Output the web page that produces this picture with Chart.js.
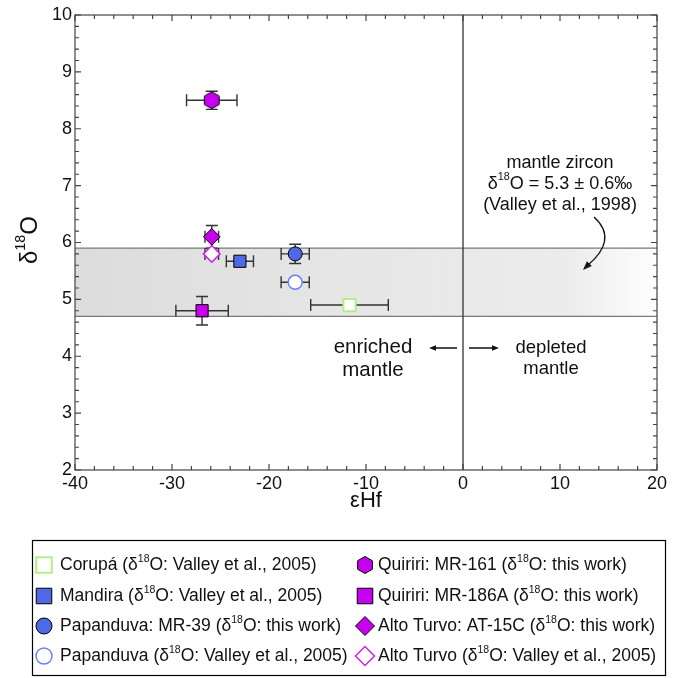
<!DOCTYPE html>
<html>
<head>
<meta charset="utf-8">
<script src="https://cdn.jsdelivr.net/npm/chart.js@4"></script>
<style>
  body { margin: 0; background: #fff; }
  canvas { display: block; }
</style>
</head>
<body>
<canvas id="hfChart" width="680" height="678"></canvas>
<script>
const FONT = '"Liberation Sans", Arial, Helvetica, sans-serif';

// sample groups, in legend order (left column first, then right column)
const groups = [
    'Corupá (δ18O: Valley et al., 2005)',
    'Mandira (δ18O: Valley et al., 2005)',
    'Papanduva: MR-39 (δ18O: this work)',
    'Papanduva (δ18O: Valley et al., 2005)',
    'Quiriri: MR-161 (δ18O: this work)',
    'Quiriri: MR-186A (δ18O: this work)',
    'Alto Turvo: AT-15C (δ18O: this work)',
    'Alto Turvo (δ18O: Valley et al., 2005)'
];
const epsHf    = [-11.7, -23.0, -17.3, -17.3, -25.9, -26.9, -25.9, -25.9];
const epsHfErr = [4.0, 1.4, 1.45, 1.45, 2.6, 2.7, 0.7, 0.7];
const d18O     = [4.9, 5.67, 5.8, 5.3, 8.5, 4.8, 6.1, 5.8];
const d18OErr  = [0, 0, 0.17, 0, 0.16, 0.25, 0.2, 0];

const xTicks = [-40, -30, -20, -10, 0, 10, 20];
const yTicks = [2, 3, 4, 5, 6, 7, 8, 9, 10];
const mantleBand = [4.7, 5.9];   // 5.3 ± 0.6 ‰
const divider = 0;               // εHf = 0

const MAGENTA = '#c800f0';
const BLUE = '#4f68e6';

const markers = [
    { shape: 'rect',    fill: '#ffffff', stroke: '#b4ee86', lw: 2 },
    { shape: 'rect',    fill: BLUE,      stroke: '#000',    lw: 1 },
    { shape: 'circle',  fill: BLUE,      stroke: '#000',    lw: 1 },
    { shape: 'circle',  fill: '#ffffff', stroke: '#6a80ff', lw: 1.5 },
    { shape: 'hex',     fill: MAGENTA,   stroke: '#000',    lw: 1 },
    { shape: 'rect',    fill: MAGENTA,   stroke: '#000',    lw: 1 },
    { shape: 'rectRot', fill: MAGENTA,   stroke: '#000',    lw: 1 },
    { shape: 'rectRot', fill: '#ffffff', stroke: '#d020f0', lw: 1.5 }
];

function markerPath(ctx, shape, x, y, r) {
    ctx.beginPath();
    if (shape === 'circle') {
        ctx.arc(x, y, r, 0, Math.PI * 2);
    } else if (shape === 'rect') {
        const h = r * Math.SQRT1_2;
        ctx.rect(x - h, y - h, 2 * h, 2 * h);
    } else if (shape === 'rectRot') {
        ctx.moveTo(x - r, y); ctx.lineTo(x, y - r);
        ctx.lineTo(x + r, y); ctx.lineTo(x, y + r);
        ctx.closePath();
    } else if (shape === 'hex') {
        const w = r * 0.87;
        ctx.moveTo(x, y - r); ctx.lineTo(x + w, y - r / 2);
        ctx.lineTo(x + w, y + r / 2); ctx.lineTo(x, y + r);
        ctx.lineTo(x - w, y + r / 2); ctx.lineTo(x - w, y - r / 2);
        ctx.closePath();
    }
}

function drawMarker(ctx, m, x, y, r) {
    ctx.save();
    markerPath(ctx, m.shape, x, y, r);
    ctx.fillStyle = m.fill;
    ctx.fill();
    ctx.lineWidth = m.lw;
    ctx.strokeStyle = m.stroke;
    ctx.stroke();
    ctx.restore();
}

// Chart.js has no hexagon, so hand it a small canvas as the point style
function hexImage(m, r) {
    const c = document.createElement('canvas');
    c.width = Math.ceil(2 * r + 3);
    c.height = Math.ceil(2 * r + 3);
    drawMarker(c.getContext('2d'), m, c.width / 2, c.height / 2, r);
    return c;
}

// text with the 18 of δ18O raised
function drawRich(ctx, str, x, y, size, align) {
    const parts = [];
    str.split('δ18O').forEach((s, i) => {
        if (i) parts.push(['δ', 0], ['18', 1], ['O', 0]);
        if (s) parts.push([s, 0]);
    });
    const supSize = size * 0.6;
    let total = 0;
    parts.forEach(p => {
        ctx.font = (p[1] ? supSize : size) + 'px ' + FONT;
        p.push(ctx.measureText(p[0]).width);
        total += p[2];
    });
    let cx = align === 'center' ? x - total / 2 : align === 'right' ? x - total : x;
    ctx.textAlign = 'left';
    ctx.textBaseline = 'middle';
    parts.forEach(p => {
        ctx.font = (p[1] ? supSize : size) + 'px ' + FONT;
        ctx.fillText(p[0], cx, p[1] ? y - size * 0.36 : y);
        cx += p[2];
    });
}

function arrowHead(ctx, x, y, angle, len, half) {
    ctx.save();
    ctx.translate(x, y);
    ctx.rotate(angle);
    ctx.beginPath();
    ctx.moveTo(0, 0);
    ctx.lineTo(-len, -half);
    ctx.lineTo(-len, half);
    ctx.closePath();
    ctx.fill();
    ctx.restore();
}

const decorPlugin = {
    id: 'decor',
    beforeDatasetsDraw(chart) {
        const { ctx, chartArea: a, scales: { x, y } } = chart;
        ctx.save();
        // mantle zircon band
        const yTop = y.getPixelForValue(mantleBand[1]);
        const yBot = y.getPixelForValue(mantleBand[0]);
        const g = ctx.createLinearGradient(a.left, 0, a.right, 0);
        g.addColorStop(0, '#dcdcdc');
        g.addColorStop(0.45, '#e6e6e6');
        g.addColorStop(0.85, '#ececec');
        g.addColorStop(1, '#fefefe');
        ctx.fillStyle = g;
        ctx.fillRect(a.left, yTop, a.right - a.left, yBot - yTop);
        ctx.strokeStyle = '#7a7a7a';
        ctx.lineWidth = 1.2;
        ctx.beginPath();
        ctx.moveTo(a.left, yTop); ctx.lineTo(a.right, yTop);
        ctx.moveTo(a.left, yBot); ctx.lineTo(a.right, yBot);
        ctx.stroke();

        // εHf = 0 divider
        const xd = x.getPixelForValue(divider);
        ctx.strokeStyle = '#333';
        ctx.lineWidth = 1.3;
        ctx.beginPath();
        ctx.moveTo(xd, a.top); ctx.lineTo(xd, a.bottom);
        ctx.stroke();

        // error bars
        ctx.strokeStyle = '#333';
        ctx.lineWidth = 1.4;
        const cap = 6;
        for (let i = 0; i < groups.length; i++) {
            const px = x.getPixelForValue(epsHf[i]);
            const py = y.getPixelForValue(d18O[i]);
            ctx.beginPath();
            if (epsHfErr[i] > 0) {
                const x0 = x.getPixelForValue(epsHf[i] - epsHfErr[i]);
                const x1 = x.getPixelForValue(epsHf[i] + epsHfErr[i]);
                ctx.moveTo(x0, py); ctx.lineTo(x1, py);
                ctx.moveTo(x0, py - cap); ctx.lineTo(x0, py + cap);
                ctx.moveTo(x1, py - cap); ctx.lineTo(x1, py + cap);
            }
            if (d18OErr[i] > 0) {
                const y0 = y.getPixelForValue(d18O[i] - d18OErr[i]);
                const y1 = y.getPixelForValue(d18O[i] + d18OErr[i]);
                ctx.moveTo(px, y0); ctx.lineTo(px, y1);
                ctx.moveTo(px - cap, y0); ctx.lineTo(px + cap, y0);
                ctx.moveTo(px - cap, y1); ctx.lineTo(px + cap, y1);
            }
            ctx.stroke();
        }
        ctx.restore();
    },
    afterDraw(chart) {
        const { ctx, chartArea: a, scales: { x, y } } = chart;
        ctx.save();
        // frame with inward ticks on all four sides
        ctx.strokeStyle = '#444';
        ctx.lineWidth = 1.2;
        ctx.strokeRect(a.left, a.top, a.right - a.left, a.bottom - a.top);
        ctx.beginPath();
        for (let v = -40; v <= 20; v += 2) {
            const px = x.getPixelForValue(v);
            const len = v % 10 === 0 ? 6 : 4;
            ctx.moveTo(px, a.bottom); ctx.lineTo(px, a.bottom - len);
            ctx.moveTo(px, a.top); ctx.lineTo(px, a.top + len);
        }
        for (let k = 10; k <= 50; k++) {
            const py = y.getPixelForValue(k / 5);
            const len = k % 5 === 0 ? 6 : 4;
            ctx.moveTo(a.left, py); ctx.lineTo(a.left + len, py);
            ctx.moveTo(a.right, py); ctx.lineTo(a.right - len, py);
        }
        ctx.stroke();

        // axis titles
        ctx.fillStyle = '#111';
        ctx.save();
        ctx.translate(30, 240);
        ctx.rotate(-Math.PI / 2);
        drawRich(ctx, 'δ18O', 0, 0, 24, 'center');
        ctx.restore();
        drawRich(ctx, 'εHf', (a.left + a.right) / 2, 501, 22, 'center');

        // band note and its curved pointer
        drawRich(ctx, 'mantle zircon', 560, 163, 18, 'center');
        drawRich(ctx, 'δ18O = 5.3 ± 0.6‰', 560, 184, 18, 'center');
        drawRich(ctx, '(Valley et al., 1998)', 560, 205, 18, 'center');
        ctx.strokeStyle = '#111';
        ctx.lineWidth = 1.3;
        ctx.beginPath();
        ctx.moveTo(594, 217);
        ctx.bezierCurveTo(612, 233, 606, 250, 588, 265);
        ctx.stroke();
        arrowHead(ctx, 583, 270, Math.atan2(6, -6), 9, 3.5);

        // enriched / depleted mantle
        const xd = x.getPixelForValue(divider);
        drawRich(ctx, 'enriched', 373, 347, 20.5, 'center');
        drawRich(ctx, 'mantle', 373, 370, 20.5, 'center');
        drawRich(ctx, 'depleted', 551, 348, 18.5, 'center');
        drawRich(ctx, 'mantle', 551, 369, 18.5, 'center');
        ctx.beginPath();
        ctx.moveTo(xd - 6, 348); ctx.lineTo(xd - 30, 348);
        ctx.moveTo(xd + 6, 348); ctx.lineTo(xd + 32, 348);
        ctx.stroke();
        arrowHead(ctx, xd - 34, 348, Math.PI, 7, 2.8);
        arrowHead(ctx, xd + 36, 348, 0, 7, 2.8);

        // legend box
        ctx.strokeStyle = '#000';
        ctx.lineWidth = 1.2;
        ctx.strokeRect(32.5, 540.5, 633, 135);
        const rows = [565, 596, 626, 656];
        const cols = [{ m: 44, t: 60 }, { m: 365, t: 378 }];
        const legendR = { rect: 11, circle: 8, rectRot: 9.5, hex: 8.5 };
        for (let i = 0; i < groups.length; i++) {
            const col = cols[Math.floor(i / 4)];
            const ry = rows[i % 4];
            drawMarker(ctx, markers[i], col.m, ry, legendR[markers[i].shape]);
            ctx.fillStyle = '#111';
            drawRich(ctx, groups[i], col.t, ry, 17.5, 'left');
        }
        ctx.restore();
    }
};

const plotR = { rect: 8.6, circle: 7, rectRot: 8.3, hex: 8.5 };
const datasets = groups.map((name, i) => {
    const m = markers[i];
    return {
        label: name,
        data: [{ x: epsHf[i], y: d18O[i] }],
        pointStyle: m.shape === 'hex' ? hexImage(m, plotR.hex) : m.shape,
        pointRadius: plotR[m.shape],
        backgroundColor: m.fill,
        borderColor: m.stroke,
        borderWidth: m.lw
    };
});

// draw order: filled diamond before the hollow one that overlaps it
new Chart(document.getElementById('hfChart'), {
    type: 'scatter',
    data: { datasets },
    options: {
        responsive: false,
        animation: false,
        layout: { padding: { left: 0, top: 15, right: 23, bottom: 178 } },
        plugins: { legend: { display: false }, tooltip: { enabled: false } },
        scales: {
            x: {
                type: 'linear', min: -40, max: 20,
                afterBuildTicks: s => { s.ticks = xTicks.map(v => ({ value: v })); },
                afterFit: s => { s.height = 30; },
                ticks: { color: '#111', font: { size: 18, family: FONT }, padding: 3, maxRotation: 0 },
                grid: { display: false, drawTicks: false },
                border: { display: false }
            },
            y: {
                type: 'linear', min: 2, max: 10,
                afterBuildTicks: s => { s.ticks = yTicks.map(v => ({ value: v })); },
                afterFit: s => { s.width = 75; },
                ticks: { color: '#111', font: { size: 18, family: FONT }, padding: 3 },
                grid: { display: false, drawTicks: false },
                border: { display: false }
            }
        }
    },
    plugins: [decorPlugin]
});
</script>
</body>
</html>
